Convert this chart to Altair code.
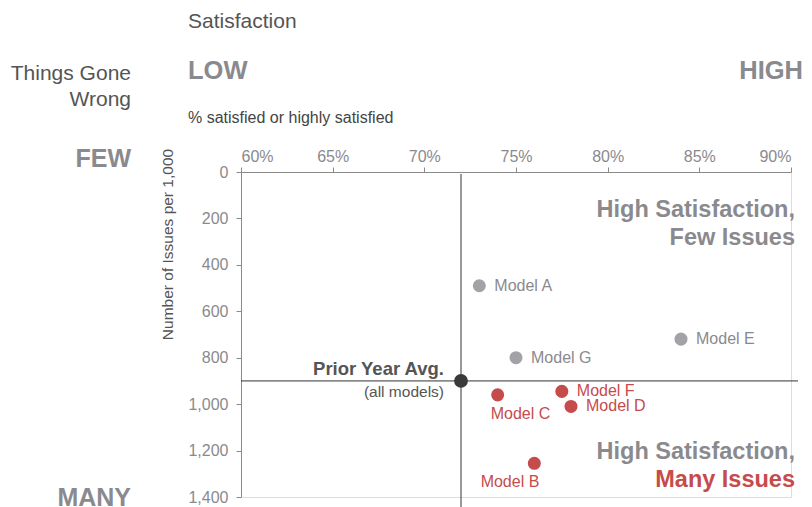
import altair as alt
import pandas as pd

FONT = "Liberation Sans"

# ---- data ----
models = ["Model A", "Model B", "Model C", "Model D", "Model E", "Model F", "Model G"]
satisfaction = [0.73, 0.76, 0.74, 0.78, 0.84, 0.775, 0.75]
issues = [490, 1255, 960, 1010, 720, 945, 800]

prior_label = ["Prior Year Avg."]
prior_satisfaction = [0.72]
prior_issues = [900]

x_ticks = [0.60, 0.65, 0.70, 0.75, 0.80, 0.85, 0.90]
y_ticks = [0, 200, 400, 600, 800, 1000, 1200, 1400]

df = pd.DataFrame({"model": models, "sat": satisfaction, "issues": issues})
avg = pd.DataFrame({"model": prior_label, "sat": prior_satisfaction, "issues": prior_issues})

RED = "#c64b4b"
GRAY_PT = "#a3a3a7"
GRAY_TXT = "#8a8a8e"
DARK = "#555555"
AXIS = "#8a8a8a"

x_enc = alt.X(
    "sat:Q",
    scale=alt.Scale(domain=[0.60, 0.90], nice=False, zero=False),
    axis=alt.Axis(
        orient="top", values=x_ticks, format=".0%", title=None, grid=False,
        labelFontSize=16, labelColor=GRAY_TXT, labelFont=FONT, labelPadding=3,
        domainColor=AXIS, tickColor=AXIS, tickSize=5,
    ),
)
y_enc = alt.Y(
    "issues:Q",
    scale=alt.Scale(domain=[0, 1400], reverse=True, nice=False),
    axis=alt.Axis(
        values=y_ticks, format=",d", grid=False,
        title="Number of Issues per 1,000",
        titleFont=FONT, titleFontSize=15.5, titleFontWeight="normal", titleColor=DARK,
        titleAngle=270, titleX=-74, titleY=72, titleAlign="center", titleBaseline="middle",
        labelFontSize=16, labelColor=GRAY_TXT, labelFont=FONT, labelPadding=8,
        domainColor=AXIS, tickColor=AXIS, tickSize=5,
    ),
)

color_cond = alt.condition(alt.datum.issues > 900, alt.value(RED), alt.value(GRAY_PT))
text_cond = alt.condition(alt.datum.issues > 900, alt.value(RED), alt.value(GRAY_TXT))

hline = alt.Chart(avg).mark_rule(color="#333333", strokeWidth=1).encode(
    y=y_enc, x=alt.value(0), x2=alt.value(557)
)
vline = alt.Chart(avg).mark_rule(color="#333333", strokeWidth=1).encode(
    x=x_enc, y=alt.value(2), y2=alt.value(345)
)

points = alt.Chart(df).mark_circle(size=170, opacity=1).encode(
    x=x_enc, y=y_enc, color=color_cond
)
avg_point = alt.Chart(avg).mark_circle(size=190, opacity=1, color="#3a3a3a").encode(
    x=x_enc, y=y_enc
)

right_labels = alt.Chart(df).transform_filter(
    alt.FieldOneOfPredicate(field="model", oneOf=["Model A", "Model D", "Model E", "Model F", "Model G"])
).mark_text(align="left", baseline="middle", dx=15, fontSize=16, font=FONT).encode(
    x=x_enc, y=y_enc, text="model:N", color=text_cond
)
label_c = alt.Chart(df).transform_filter(alt.datum.model == "Model C").mark_text(
    align="left", baseline="middle", dx=-7, dy=19, fontSize=16, font=FONT
).encode(x=x_enc, y=y_enc, text="model:N", color=text_cond)
label_b = alt.Chart(df).transform_filter(alt.datum.model == "Model B").mark_text(
    align="right", baseline="middle", dx=5, dy=19, fontSize=16, font=FONT
).encode(x=x_enc, y=y_enc, text="model:N", color=text_cond)


def note(text, x, y, size, color, weight="normal", align="left"):
    return alt.Chart(alt.Data(values=[{"label": text}])).mark_text(
        align=align, baseline="alphabetic", fontSize=size, fontWeight=weight,
        color=color, font=FONT,
    ).encode(x=alt.value(x), y=alt.value(y), text="label:N")


notes = [
    note("Satisfaction", -53, -144, 21, DARK),
    note("LOW", -53, -93, 25.5, GRAY_TXT, "bold"),
    note("HIGH", 562, -93, 25.5, GRAY_TXT, "bold", "right"),
    note("Things Gone", -110, -92, 21, DARK, align="right"),
    note("Wrong", -110, -66, 21, DARK, align="right"),
    note("% satisfied or highly satisfied", -53, -49, 16, "#444444"),
    note("FEW", -110, -5, 25, GRAY_TXT, "bold", "right"),
    note("MANY", -110, 334, 25, GRAY_TXT, "bold", "right"),
    note("High Satisfaction,", 554, 44.5, 23.5, GRAY_TXT, "bold", "right"),
    note("Few Issues", 554, 72.5, 23.5, GRAY_TXT, "bold", "right"),
    note("High Satisfaction,", 554, 286.5, 23.5, GRAY_TXT, "bold", "right"),
    note("Many Issues", 554, 314.5, 23.5, RED, "bold", "right"),
    note("Prior Year Avg.", 203, 203, 18.5, DARK, "bold", "right"),
    note("(all models)", 203, 225, 15.5, DARK, align="right"),
]

chart = alt.layer(
    hline, vline, points, avg_point, right_labels, label_c, label_b, *notes
).properties(
    width=550,
    height=325,
    autosize=alt.AutoSizeParams(type="none"),
    padding={"left": 233, "top": 164, "right": 13, "bottom": 10},
).configure_view(stroke=None).configure(font=FONT)

chart.save("out.html", embed_options={"renderer": "svg", "actions": False})
